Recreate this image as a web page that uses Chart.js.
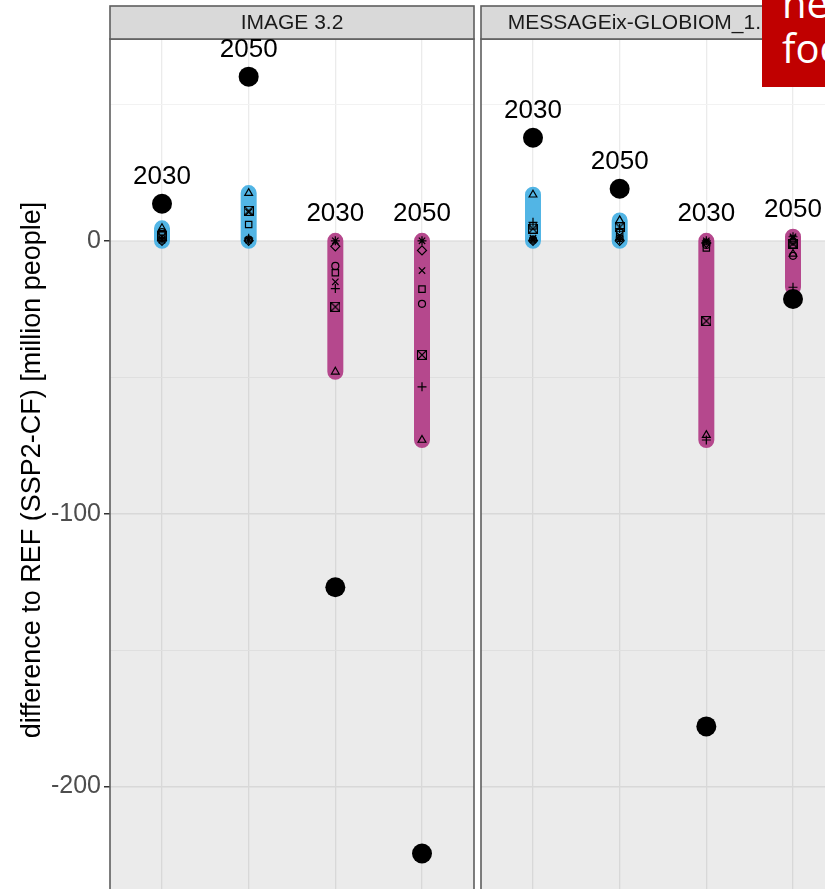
<!DOCTYPE html>
<html>
<head>
<meta charset="utf-8">
<script src="https://cdn.jsdelivr.net/npm/chart.js@4.4.1/dist/chart.umd.min.js"></script>
<style>
  html, body { margin: 0; padding: 0; width: 825px; height: 889px; overflow: hidden; background: #fff; }
  body { position: relative; }
  .panel { position: absolute; top: 0; height: 901px; }
  #panelImage { left: 0; width: 476px; }
  #panelMessage { left: 479px; width: 368px; }
  #note {
    position: absolute; left: 762px; top: 0; width: 140px; height: 87px;
    background: #c00000; color: #fff; overflow: hidden;
    font-family: "Open Sans", sans-serif; font-size: 40px; line-height: 45px;
  }
  #note div { margin-left: 20px; white-space: nowrap; }
  #note div:first-child { margin-top: -20px; }
</style>
</head>
<body>
<div class="panel" id="panelImage"><canvas id="chartImage"></canvas></div>
<div class="panel" id="panelMessage"><canvas id="chartMessage"></canvas></div>
<div id="note"><div>he</div><div>foo</div></div>
<script>
// Facet titles
const modelNames = ['IMAGE 3.2', 'MESSAGEix-GLOBIOM_1.1-R12'];

// Four columns per facet: two groups, each shown for 2030 and 2050
const categories = ['gain 2030', 'gain 2050', 'loss 2030', 'loss 2050'];
const years = ['2030', '2050', '2030', '2050'];
const categoryGroup = [0, 0, 1, 1];
const groupColors = ['#52b5e5', '#b5488d'];

// Aggregate difference per column (large black dots)
const imageTotals = [13.6, 60.2, -127, -224.6];
const messageTotals = [37.8, 19.1, -178, -21.3];

// Marker shapes, one row of values per shape
const markerShapes = ['triangle', 'cross', 'crossRot', 'rect', 'circle', 'star', 'rectRot', 'rectCross'];
const imageMarkers = [
  [4.6, 17.5, -48.0, -73.0],   // triangle
  [1.0, 1.0, -17.5, -53.5],    // plus
  [0.6, 10.5, -15.0, -10.9],   // x
  [2.2, 6.0, -11.7, -17.7],    // square
  [3.2, 0.5, -9.2, -23.1],     // circle
  [0.2, 0.3, 0.0, 0.0],        // star
  [0.0, 0.0, -2.0, -3.5],      // diamond
  [1.6, 11.0, -24.2, -41.8]    // boxed x
];
const messageMarkers = [
  [16.9, 7.5, -71.2, -4.8],
  [6.8, 4.5, -73.0, -17.0],
  [1.0, 2.0, -0.5, 1.0],
  [5.5, 3.0, -2.6, -1.5],
  [0.5, 1.0, -1.5, -5.5],
  [0.3, 0.5, 0.0, 1.5],
  [0.0, 0.0, -0.8, 0.0],
  [4.5, 5.0, -29.4, -1.0]
];

// Y axis
const yMin = -242;
const yMax = 74;
const yStep = 50;
const yLabelEvery = 100;
const yTitle = 'difference to REF (SSP2-CF) [million people]';

Chart.defaults.font.family = '"Liberation Sans", Arial, sans-serif';

// small square-with-cross marker
function boxedCross() {
  const c = document.createElement('canvas');
  c.width = 10; c.height = 10;
  const g = c.getContext('2d');
  g.strokeStyle = '#000';
  g.lineWidth = 1.1;
  g.strokeRect(0.5, 0.5, 9, 9);
  g.beginPath();
  g.moveTo(1, 1); g.lineTo(9, 9);
  g.moveTo(9, 1); g.lineTo(1, 9);
  g.stroke();
  return c;
}
const boxedCrossImg = boxedCross();

function columnExtent(markers, i) {
  const vals = markers.map(row => row[i]);
  return [Math.min(...vals), Math.max(...vals)];
}

function buildDatasets(markers, totals) {
  const sets = [];
  groupColors.forEach((color, g) => {
    const data = [];
    categories.forEach((c, i) => {
      if (categoryGroup[i] !== g) return;
      const [lo, hi] = columnExtent(markers, i);
      data.push({ x: i + 1, y: lo }, { x: i + 1, y: hi }, { x: i + 1, y: null });
    });
    sets.push({
      type: 'line', data, showLine: true, spanGaps: false,
      borderColor: color, borderWidth: 16, borderCapStyle: 'round',
      pointRadius: 0, fill: false, order: 3
    });
  });
  sets.push({
    data: totals.map((v, i) => ({ x: i + 1, y: v })),
    pointRadius: 10, pointBackgroundColor: '#000', pointBorderWidth: 0, order: 2
  });
  markerShapes.forEach((shape, s) => {
    sets.push({
      data: markers[s].map((v, i) => ({ x: i + 1, y: v })),
      pointStyle: shape === 'rectCross' ? boxedCrossImg : shape,
      pointRadius: shape === 'circle' ? 3.5 : 4.5,
      pointBorderColor: '#000', pointBackgroundColor: 'rgba(0,0,0,0)',
      pointBorderWidth: 1.2, order: 1
    });
  });
  return sets;
}

// shading below zero, panel frame, strip and year labels
const panelDecor = {
  id: 'panelDecor',
  beforeDatasetsDraw(chart) {
    const { ctx, chartArea: a, scales: { y } } = chart;
    const y0 = y.getPixelForValue(0);
    ctx.save();
    ctx.fillStyle = 'rgba(0,0,0,0.078)';
    ctx.fillRect(a.left, y0, a.right - a.left, a.bottom - y0);
    ctx.restore();
  },
  afterDraw(chart, args, opts) {
    const { ctx, chartArea: a, scales: { x, y } } = chart;
    ctx.save();
    ctx.strokeStyle = '#5e5e5e';
    ctx.lineWidth = 1.6;
    ctx.strokeRect(a.left, a.top, a.right - a.left, a.bottom - a.top);
    ctx.fillStyle = '#d9d9d9';
    ctx.fillRect(a.left, 6, a.right - a.left, a.top - 6);
    ctx.strokeRect(a.left, 6, a.right - a.left, a.top - 6);
    ctx.fillStyle = '#1a1a1a';
    ctx.font = '21px "Liberation Sans", Arial, sans-serif';
    ctx.textAlign = 'center';
    ctx.textBaseline = 'middle';
    ctx.fillText(opts.title, (a.left + a.right) / 2, (6 + a.top) / 2 + 0.5);

    // year above the highest mark of each column
    ctx.fillStyle = '#000';
    ctx.font = '26px "Liberation Sans", Arial, sans-serif';
    years.forEach((yr, i) => {
      const top = Math.max(columnExtent(opts.markers, i)[1], opts.totals[i]);
      ctx.fillText(yr, x.getPixelForValue(i + 1), y.getPixelForValue(top) - 27);
    });
    ctx.restore();
  }
};

function isMajor(v) { return v % yLabelEvery === 0; }

function noPadding(s) {
  s.paddingLeft = 0; s.paddingRight = 0; s.paddingTop = 0; s.paddingBottom = 0;
}

function makeChart(id, title, markers, totals, showAxis) {
  return new Chart(document.getElementById(id), {
    type: 'scatter',
    data: { datasets: buildDatasets(markers, totals) },
    plugins: [panelDecor],
    options: {
      responsive: true, maintainAspectRatio: false, animation: false,
      devicePixelRatio: 1,
      layout: { autoPadding: false, padding: { top: 39, left: showAxis ? 0 : 2, right: 2, bottom: 0 } },
      plugins: {
        legend: { display: false }, tooltip: { enabled: false },
        panelDecor: { title, markers, totals }
      },
      scales: {
        x: {
          type: 'linear', min: 0.4, max: 4.6,
          afterBuildTicks(s) { s.ticks = categories.map((c, i) => ({ value: i + 1 })); },
          afterFit(s) { s.height = 0; noPadding(s); },
          ticks: { display: false },
          grid: { color: '#ebebeb', lineWidth: 1.3, drawTicks: false },
          border: { display: false }
        },
        y: {
          min: yMin, max: yMax,
          afterFit(s) { s.width = showAxis ? 110 : 0; noPadding(s); },
          ticks: {
            display: showAxis, stepSize: yStep, includeBounds: false,
            color: '#4d4d4d', font: { size: 25 }, padding: 3,
            callback: v => isMajor(v) ? v : ''
          },
          grid: {
            color: c => (c.tick && isMajor(c.tick.value)) ? '#ebebeb' : '#f2f2f2',
            lineWidth: c => (c.tick && isMajor(c.tick.value)) ? 1.5 : 1,
            tickLength: 6,
            tickColor: c => (showAxis && c.tick && isMajor(c.tick.value)) ? '#333' : 'rgba(0,0,0,0)'
          },
          border: { display: false },
          title: {
            display: showAxis, text: yTitle, color: '#000',
            font: { size: 27 }, padding: { top: 16, bottom: 0 }
          }
        }
      }
    }
  });
}

makeChart('chartImage', modelNames[0], imageMarkers, imageTotals, true);
makeChart('chartMessage', modelNames[1], messageMarkers, messageTotals, false);
</script>
</body>
</html>
